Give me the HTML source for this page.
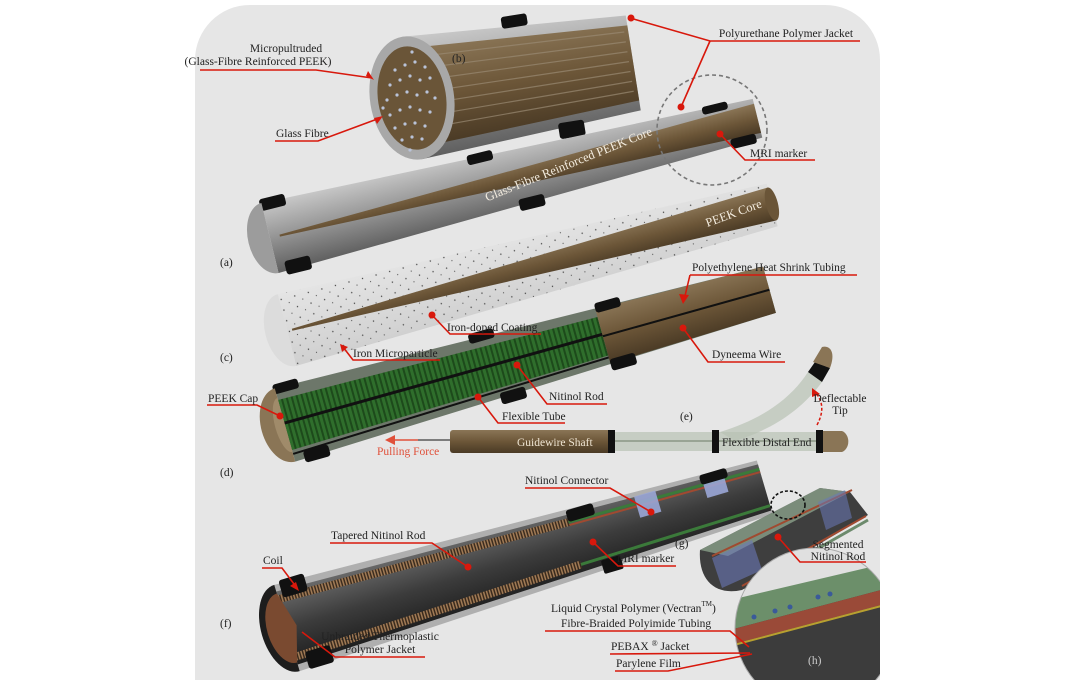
<!DOCTYPE html>
<html><head><meta charset="utf-8"><style>
html,body{margin:0;padding:0;background:#fff;width:1076px;height:680px;overflow:hidden}
svg{display:block}
text{font-family:"Liberation Serif",serif;font-size:11.5px;fill:#222}
.ln{stroke:#d8180c;stroke-width:1.6;fill:none}
.dot{fill:#d8180c}
</style></head><body>
<svg width="1076" height="680" viewBox="0 0 1076 680" xmlns="http://www.w3.org/2000/svg">
<defs>
<linearGradient id="gry" x1="0" y1="0" x2="0" y2="1"><stop offset="0" stop-color="#c9c9c9"/><stop offset=".45" stop-color="#9a9a9a"/><stop offset="1" stop-color="#5e5e5e"/></linearGradient>
<linearGradient id="brn" x1="0" y1="0" x2="0" y2="1"><stop offset="0" stop-color="#8a7556"/><stop offset=".5" stop-color="#6c5638"/><stop offset="1" stop-color="#4a3a25"/></linearGradient>
<linearGradient id="wht" x1="0" y1="0" x2="0" y2="1"><stop offset="0" stop-color="#e4e4e4"/><stop offset="1" stop-color="#cdcdcd"/></linearGradient>
<linearGradient id="drk" x1="0" y1="0" x2="0" y2="1"><stop offset="0" stop-color="#6a6a6a"/><stop offset=".5" stop-color="#3c3c3c"/><stop offset="1" stop-color="#1e1e1e"/></linearGradient>
<pattern id="dots" width="14" height="11" patternUnits="userSpaceOnUse"><circle cx="2" cy="2" r=".7" fill="#444"/><circle cx="9" cy="7" r=".6" fill="#555"/></pattern>
<pattern id="rib" width="5" height="10" patternUnits="userSpaceOnUse"><rect width="3" height="10" fill="#2f6e2c"/><rect x="3" width="2" height="10" fill="#1d4a1b"/></pattern>
<pattern id="coil" width="3" height="10" patternUnits="userSpaceOnUse"><rect width="1.6" height="10" fill="#a07a55"/><rect x="1.6" width="1.4" height="10" fill="#3a2a1c"/></pattern>
<clipPath id="bg"><path d="M250,5 H825 A55,55 0 0 1 880,60 V680 H195 V60 A55,55 0 0 1 250,5 Z"/></clipPath>
</defs>
<path d="M250,5 H825 A55,55 0 0 1 880,60 V680 H195 V60 A55,55 0 0 1 250,5 Z" fill="#e6e6e6"/>

<g clip-path="url(#bg)">
<!-- (b) -->
<g transform="translate(412,98) rotate(-9)">
  <polygon points="0,-62 224,-48 224,48 0,62" fill="url(#gry)"/>
  <polygon points="0,-50 224,-38 224,38 0,50" fill="url(#brn)"/>
  <g stroke="#9a8b74" stroke-width="1.2" opacity=".7">
    <line x1="10" y1="-40" x2="220" y2="-32"/><line x1="10" y1="-28" x2="220" y2="-22"/><line x1="10" y1="-16" x2="220" y2="-12"/><line x1="10" y1="-4" x2="220" y2="-2"/><line x1="10" y1="8" x2="220" y2="8"/><line x1="10" y1="20" x2="220" y2="18"/><line x1="10" y1="32" x2="220" y2="28"/>
  </g>
  <rect x="100" y="-66" width="26" height="12" fill="#111" rx="3"/>
  <rect x="140" y="48" width="26" height="16" fill="#111" rx="3"/>
  <ellipse cx="0" cy="0" rx="42" ry="62" fill="#a8a8a8"/>
  <ellipse cx="0" cy="0" rx="34" ry="52" fill="#6a5538"/>
</g>
<g fill="#b9c2d8">
<circle cx="395" cy="70" r="1.6"/><circle cx="405" cy="65" r="1.6"/><circle cx="415" cy="62" r="1.6"/><circle cx="425" cy="67" r="1.6"/><circle cx="390" cy="85" r="1.6"/><circle cx="400" cy="80" r="1.6"/><circle cx="410" cy="76" r="1.6"/><circle cx="420" cy="80" r="1.6"/><circle cx="430" cy="78" r="1.6"/><circle cx="387" cy="100" r="1.6"/><circle cx="397" cy="95" r="1.6"/><circle cx="407" cy="92" r="1.6"/><circle cx="417" cy="95" r="1.6"/><circle cx="427" cy="92" r="1.6"/><circle cx="435" cy="98" r="1.6"/><circle cx="390" cy="115" r="1.6"/><circle cx="400" cy="110" r="1.6"/><circle cx="410" cy="107" r="1.6"/><circle cx="420" cy="110" r="1.6"/><circle cx="430" cy="112" r="1.6"/><circle cx="395" cy="128" r="1.6"/><circle cx="405" cy="124" r="1.6"/><circle cx="415" cy="123" r="1.6"/><circle cx="425" cy="126" r="1.6"/><circle cx="402" cy="140" r="1.6"/><circle cx="412" cy="137" r="1.6"/><circle cx="422" cy="139" r="1.6"/><circle cx="410" cy="150" r="1.6"/><circle cx="412" cy="52" r="1.6"/><circle cx="383" cy="108" r="1.6"/>
</g>

<!-- (a) -->
<g transform="translate(270,238) rotate(-13.8)">
  <polygon points="0,-36 502,-20 502,20 0,36" fill="url(#gry)"/>
  <polygon points="10,-1 502,-15 502,15 10,1" fill="url(#brn)"/>
  <rect x="-2" y="-40" width="26" height="12" fill="#111" rx="3"/>
  <rect x="8" y="26" width="26" height="14" fill="#111" rx="3"/>
  <rect x="210" y="-33" width="26" height="10" fill="#111" rx="3"/>
  <rect x="250" y="22" width="26" height="12" fill="#111" rx="3"/>
  <rect x="450" y="-24" width="26" height="8" fill="#111" rx="3"/>
  <rect x="470" y="14" width="26" height="10" fill="#111" rx="3"/>
  <path d="M0,-36 A22,36 0 0 0 0,36 Z" fill="#9c9c9c"/>
</g>
<text x="570" y="168" transform="rotate(-22 570 168)" text-anchor="middle" style="fill:#f4ede0;font-size:12.5px">Glass-Fibre Reinforced PEEK Core</text>
<circle cx="712" cy="130" r="55" fill="none" stroke="#777" stroke-width="1.6" stroke-dasharray="4,3"/>

<!-- (c) -->
<g transform="translate(287,330) rotate(-14.45)">
  <polygon points="0,-37 501,-22 501,22 0,37" fill="url(#wht)" opacity=".9"/>
  <polygon points="0,-37 501,-22 501,22 0,37" fill="url(#dots)"/>
  <path d="M0,-37 A22,37 0 0 0 0,37 Z" fill="#dcdcdc"/>
  <polygon points="5,0 501,-18 501,16 5,2" fill="url(#brn)"/>
  <ellipse cx="501" cy="-1" rx="6" ry="17" fill="#6a5538"/>
</g>
<text x="735" y="217" transform="rotate(-20 735 217)" style="fill:#f4ede0;font-size:12.5px" text-anchor="middle">PEEK Core</text>

<!-- (d) -->
<g transform="translate(285,425) rotate(-15.6)">
  <polygon points="0,-38 503,-24 503,24 0,38" fill="#5f6a5c" opacity=".9"/>
  <polygon points="0,-26 330,-20 330,20 0,26" fill="url(#rib)"/>
  <line x1="0" y1="-2" x2="330" y2="-2" stroke="#111" stroke-width="3"/>
  <line x1="0" y1="30" x2="330" y2="22" stroke="#111" stroke-width="2"/>
  <polygon points="330,-28 503,-24 503,24 330,28" fill="url(#brn)"/>
  <line x1="330" y1="0" x2="503" y2="0" stroke="#111" stroke-width="2"/>
  <rect x="-2" y="-42" width="26" height="10" fill="#111" rx="3"/>
  <rect x="10" y="30" width="26" height="12" fill="#111" rx="3"/>
  <rect x="200" y="-38" width="26" height="10" fill="#111" rx="3"/>
  <rect x="215" y="27" width="26" height="12" fill="#111" rx="3"/>
  <rect x="330" y="-34" width="26" height="10" fill="#111" rx="3"/>
  <rect x="330" y="24" width="26" height="12" fill="#111" rx="3"/>
  <path d="M0,-38 A24,38 0 0 0 0,38 Z" fill="#8a7556"/>
  <path d="M0,-28 A10,28 0 0 0 0,28 Z" fill="#a08b6a"/>
</g>

<!-- (e) -->
<rect x="450" y="430" width="162" height="23" rx="3" fill="url(#brn)"/>
<rect x="612" y="432" width="215" height="19" fill="#b8c2b4" opacity=".7"/>
<line x1="612" y1="441" x2="827" y2="441" stroke="#6c7a66" stroke-width="1"/>
<path d="M720,432 C760,420 790,400 808,372 L822,382 C800,412 770,430 735,441 Z" fill="#b8c2b4" opacity=".7"/>
<path d="M808,372 L822,382 L830,368 L815,362 Z" fill="#111"/>
<path d="M813,362 L830,368 C836,352 830,345 822,347 Z" fill="#8a7556"/>
<rect x="608" y="430" width="7" height="23" fill="#111"/>
<rect x="712" y="430" width="7" height="23" fill="#111"/>
<rect x="816" y="430" width="7" height="23" fill="#111"/>
<path d="M823,431 L842,431 A9,11 0 0 1 842,452 L823,452 Z" fill="#8a7556"/>
<line x1="450" y1="440" x2="418" y2="440" stroke="#111" stroke-width="1"/>
<line x1="418" y1="440" x2="390" y2="440" stroke="#e0503a" stroke-width="1.5"/>
<polygon points="385,440 395,435 395,445" fill="#e0503a"/>
<path d="M817,425 C825,410 822,400 815,392" stroke="#d8180c" stroke-width="1.5" stroke-dasharray="3,2" fill="none"/>
<polygon points="812,388 820,394 812,397" fill="#d8180c"/>

<!-- (f) -->
<g transform="translate(287,628) rotate(-16.4)">
  <polygon points="0,-45 498,-28 498,28 0,45" fill="#8a8a8a" opacity=".6"/>
  <polygon points="0,-38 498,-24 498,24 0,38" fill="url(#drk)"/>
  <polygon points="0,-34 300,-26 300,-18 0,-26" fill="url(#coil)"/>
  <polygon points="0,26 300,18 300,26 0,34" fill="url(#coil)"/>
  <line x1="300" y1="-22" x2="498" y2="-19" stroke="#3b7a3a" stroke-width="3"/>
  <line x1="300" y1="-19" x2="498" y2="-16" stroke="#a04a30" stroke-width="2"/>
  <line x1="300" y1="22" x2="498" y2="19" stroke="#3b7a3a" stroke-width="3"/>
  <path d="M370,-28 l22,0 l0,22 l-22,0 Z" fill="#9aa6d6" opacity=".9"/>
  <path d="M440,-26 l22,0 l0,20 l-22,0 Z" fill="#9aa6d6" opacity=".9"/>
  <rect x="300" y="-34" width="28" height="12" fill="#111" rx="3"/>
  <rect x="320" y="24" width="20" height="14" fill="#111" rx="2"/>
  <rect x="438" y="-30" width="28" height="10" fill="#111" rx="3"/>
  <path d="M0,-45 A26,45 0 0 0 0,45 Z" fill="#1d1d1d"/>
  <path d="M0,-36 A20,36 0 0 0 0,36 L10,0 Z" fill="#7a4a30"/>
  <rect x="5" y="-48" width="26" height="18" fill="#111" rx="3"/>
  <rect x="10" y="28" width="26" height="18" fill="#111" rx="3"/>
</g>

<!-- (g) -->
<path d="M700,550 L820,488 L850,492 L868,515 L742,590 C715,596 698,580 700,550 Z" fill="#3e3e3e"/>
<path d="M700,550 L820,488 L850,492 L728,556 Z" fill="#8aa08a" opacity=".8"/>
<line x1="712" y1="556" x2="852" y2="490" stroke="#a04a30" stroke-width="2"/>
<line x1="742" y1="586" x2="866" y2="516" stroke="#a04a30" stroke-width="2"/>
<line x1="745" y1="590" x2="868" y2="520" stroke="#6c8a6c" stroke-width="3"/>
<path d="M712,558 L752,540 L762,570 L722,588 Z" fill="#6a78b8" opacity=".6"/>
<path d="M818,502 L845,490 L852,518 L826,530 Z" fill="#6a78b8" opacity=".55"/>
<ellipse cx="788" cy="505" rx="17" ry="14" fill="none" stroke="#111" stroke-width="1.6" stroke-dasharray="3,2"/>

<!-- (h) -->
<clipPath id="hc"><circle cx="815" cy="628" r="80"/></clipPath>
<g clip-path="url(#hc)">
  <rect x="730" y="540" width="170" height="180" fill="#3c3c3c"/>
  <polygon points="730,540 900,540 900,570 730,620" fill="#e0e0e0"/>
  <polygon points="730,600 900,560 900,585 730,630" fill="#6c8f6a"/>
  <polygon points="730,630 900,585 900,600 730,645" fill="#9a4a38"/>
  <line x1="730" y1="646" x2="900" y2="601" stroke="#b8a030" stroke-width="2"/>
  <g fill="#3a5a9a"><circle cx="754" cy="617" r="2.5"/><circle cx="775" cy="611" r="2.5"/><circle cx="790" cy="607" r="2.5"/><circle cx="818" cy="597" r="2.5"/><circle cx="830" cy="594" r="2.5"/></g>
</g>
<circle cx="815" cy="628" r="80" fill="none" stroke="#aaa" stroke-width="1"/>
</g>

<!-- leader lines -->
<polyline class="ln" points="630,18 710,41 860,41"/>
<polyline class="ln" points="710,41 681,107"/><circle class="dot" cx="681" cy="107" r="3.5"/><circle class="dot" cx="631" cy="18" r="3.5"/>
<polyline class="ln" points="200,70 316,70 372,78"/><polygon class="dot" points="374,80 366,76 368,71"/>
<polyline class="ln" points="275,141 318,141 380,118"/><polygon class="dot" points="383,116 374,118 377,124"/>
<polyline class="ln" points="720,134 745,160 815,160"/><circle class="dot" cx="720" cy="134" r="3.5"/>
<polyline class="ln" points="690,275 857,275"/><polyline class="ln" points="690,275 684,300"/><polygon class="dot" points="683,304 679,294 689,295"/>
<polyline class="ln" points="432,315 450,334 541,334"/><circle class="dot" cx="432" cy="315" r="3.5"/>
<polyline class="ln" points="343,347 353,360 440,360"/><polygon class="dot" points="340,344 348,347 342,352"/>
<polyline class="ln" points="683,328 708,362 785,362"/><circle class="dot" cx="683" cy="328" r="3.5"/>
<polyline class="ln" points="207,405 257,405 280,416"/><circle class="dot" cx="280" cy="416" r="3.5"/>
<polyline class="ln" points="517,365 547,404 607,404"/><circle class="dot" cx="517" cy="365" r="3.5"/>
<polyline class="ln" points="478,397 498,423 565,423"/><circle class="dot" cx="478" cy="397" r="3.5"/>
<polyline class="ln" points="525,488 610,488 651,512"/><circle class="dot" cx="651" cy="512" r="3.5"/>
<polyline class="ln" points="330,543 432,543 468,567"/><circle class="dot" cx="468" cy="567" r="3.5"/>
<polyline class="ln" points="593,542 618,566 676,566"/><circle class="dot" cx="593" cy="542" r="3.5"/>
<polyline class="ln" points="778,537 800,562 866,562"/><circle class="dot" cx="778" cy="537" r="3.5"/>
<polyline class="ln" points="262,568 282,568 297,588"/><polygon class="dot" points="299,591 290,586 296,582"/>
<polyline class="ln" points="302,632 335,657 425,657"/>
<polyline class="ln" points="545,631 730,631 749,647"/>
<polyline class="ln" points="610,654 750,653"/>
<polyline class="ln" points="615,671 668,671 752,654"/>

<!-- labels -->
<text x="286" y="52" text-anchor="middle">Micropultruded</text>
<text x="258" y="65" text-anchor="middle">(Glass-Fibre Reinforced PEEK)</text>
<text x="786" y="37" text-anchor="middle">Polyurethane Polymer Jacket</text>
<text x="276" y="137">Glass Fibre</text>
<text x="452" y="62">(b)</text>
<text x="750" y="157">MRI marker</text>
<text x="220" y="266">(a)</text>
<text x="692" y="271">Polyethylene Heat Shrink Tubing</text>
<text x="447" y="331">Iron-doped Coating</text>
<text x="220" y="361">(c)</text>
<text x="353" y="357">Iron Microparticle</text>
<text x="712" y="358">Dyneema Wire</text>
<text x="208" y="402">PEEK Cap</text>
<text x="549" y="400">Nitinol Rod</text>
<text x="502" y="420">Flexible Tube</text>
<text x="680" y="420">(e)</text>
<text x="840" y="402" text-anchor="middle">Deflectable</text>
<text x="840" y="414" text-anchor="middle">Tip</text>
<text x="517" y="446" style="fill:#eee4d2">Guidewire Shaft</text>
<text x="722" y="446">Flexible Distal End</text>
<text x="377" y="455" style="fill:#e0503a">Pulling Force</text>
<text x="220" y="476">(d)</text>
<text x="525" y="484">Nitinol Connector</text>
<text x="331" y="539">Tapered Nitinol Rod</text>
<text x="675" y="547">(g)</text>
<text x="617" y="562">MRI marker</text>
<text x="838" y="548" text-anchor="middle">Segmented</text>
<text x="838" y="560" text-anchor="middle">Nitinol Rod</text>
<text x="263" y="564">Coil</text>
<text x="220" y="627">(f)</text>
<text x="551" y="612">Liquid Crystal Polymer (Vectran<tspan dy="-6" font-size="7">TM</tspan><tspan dy="6">)</tspan></text>
<text x="561" y="627">Fibre-Braided Polyimide Tubing</text>
<text x="380" y="640" text-anchor="middle">Unbraided Thermoplastic</text>
<text x="380" y="653" text-anchor="middle">Polymer Jacket</text>
<text x="611" y="650">PEBAX <tspan dy="-4" font-size="8">®</tspan><tspan dy="4"> Jacket</tspan></text>
<text x="616" y="667">Parylene Film</text>
<text x="808" y="664" style="fill:#ccc">(h)</text>
</svg>
</body></html>
